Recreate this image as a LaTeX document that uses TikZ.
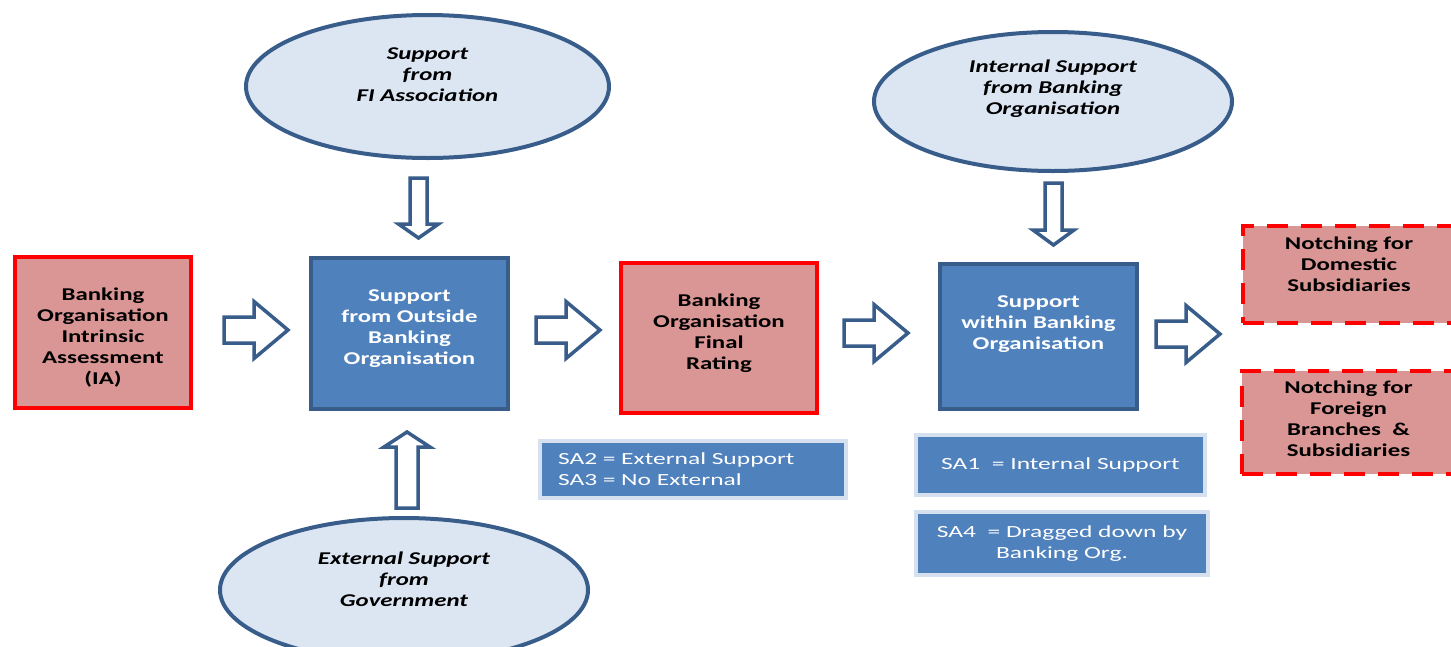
\documentclass[tikz,border=0pt]{standalone}
\usepackage{fontspec}
\setmainfont{Carlito}[FakeStretch=1.38]
\newfontfamily\safont{Carlito}[FakeStretch=1.5]
\usetikzlibrary{shapes.geometric}
\definecolor{redfill}{RGB}{217,150,148}
\definecolor{bluefill}{RGB}{79,129,189}
\definecolor{blueline}{RGB}{56,93,138}
\definecolor{ellfill}{RGB}{220,230,242}
\definecolor{halo}{RGB}{214,225,240}
\tikzset{
  pics/rarrow/.style={code={\draw[arrowline] (0,-13) -- (30,-13) -- (30,-28.5) -- (64,0) -- (30,28.5) -- (30,13) -- (0,13) -- cycle;}},
  pics/varrow/.style n args={4}{code={\draw[arrowline] (-#1,0) -- (#1,0) -- (#1,#3) -- (#2,#3) -- (0,#4) -- (-#2,#3) -- (-#1,#3) -- cycle;}},
}
\begin{document}
\begin{tikzpicture}[x=1pt,y=-1pt,
  every node/.style={inner sep=0pt, outer sep=0pt},
  arrowline/.style={draw=blueline, fill=white, line width=3.5pt, line join=miter},
  boxtxt/.style={font=\fontsize{18}{21}\selectfont\bfseries, align=center},
  elltxt/.style={font=\fontsize{18}{21}\selectfont\bfseries\itshape, align=center},
  satxt/.style={font=\safont\fontsize{17}{21}\selectfont, text=white},
  redbox/.style={rectangle, draw=red, fill=redfill, line width=4pt},
  bluebox/.style={rectangle, draw=blueline, fill=bluefill, line width=4pt},
  dashbox/.style={rectangle, draw=red, fill=redfill, line width=4pt, dash pattern=on 21pt off 13pt},
  ellnode/.style={ellipse, draw=blueline, fill=ellfill, line width=4pt},
  sabox/.style={rectangle, draw=halo, fill=bluefill, line width=4pt},
]
\useasboundingbox (0,0) rectangle (1451,646);
\clip (0,0) rectangle (1451,646);
\fill[white] (0,0) rectangle (1451,646);

% ellipses
\node[ellnode, minimum width=363, minimum height=143,
  label={[elltxt, yshift=12pt]center:{Support\\from\\FI Association}}] (e1) at (427.5,86.5) {};
\node[ellnode, minimum width=358, minimum height=139,
  label={[elltxt, yshift=13pt]center:{Internal Support\\from Banking\\Organisation}}] (e2) at (1053,101.5) {};
\node[ellnode, minimum width=368, minimum height=144,
  label={[elltxt, yshift=11pt]center:{External Support\\from\\Government}}] (e3) at (404,590) {};

% main boxes
\node[redbox, minimum width=176, minimum height=151,
  label={[boxtxt, yshift=-5.5pt]center:{Banking\\Organisation\\Intrinsic\\Assessment\\(IA)}}] (b1) at (103,332.5) {};
\node[bluebox, minimum width=197, minimum height=151,
  label={[boxtxt, text=white, yshift=4.5pt]center:{Support\\from Outside\\Banking\\Organisation}}] (b2) at (409.5,333.5) {};
\node[redbox, minimum width=196, minimum height=150,
  label={[boxtxt, yshift=5pt]center:{Banking\\Organisation\\Final\\Rating}}] (b3) at (719,338) {};
\node[bluebox, minimum width=197, minimum height=145,
  label={[boxtxt, text=white, yshift=12pt]center:{Support\\within Banking\\Organisation}}] (b4) at (1038.5,336.5) {};
\node[dashbox, minimum width=212, minimum height=97,
  label={[boxtxt, yshift=10.5pt]center:{Notching for\\Domestic\\Subsidiaries}}] (b5) at (1349,274.5) {};
\node[dashbox, minimum width=213, minimum height=103,
  label={[boxtxt, yshift=3.5pt]center:{Notching for\\Foreign\\Branches\ \ \&\\Subsidiaries}}] (b6) at (1348.5,422.5) {};

% SA label boxes
\node[sabox, satxt, minimum width=306, minimum height=57, text width=270, inner xsep=18pt, align=left] (sa23) at (693,469.5) {SA2 = External Support\\SA3 = No External};
\node[sabox, satxt, minimum width=289, minimum height=60, align=center] (sa1) at (1060.5,465) {SA1\ \ = Internal Support};
\node[sabox, satxt, minimum width=292, minimum height=63, align=center] (sa4) at (1062,543.5) {SA4\ \ = Dragged\ down by\\Banking Org.};

% block arrows
\pic (a1) at (224,330) {rarrow};
\pic (a2) at (536,330) {rarrow};
\pic (a3) at (844,333) {rarrow};
\pic (a4) at (1156,334) {rarrow};
\pic (d1) at (418.5,178) {varrow={8.5}{20}{46}{60}};
\pic (d2) at (1053.5,183) {varrow={8.5}{20.5}{47}{62}};
\pic[yscale=-1] (u1) at (407,508) {varrow={11}{23}{61}{76}};
\end{tikzpicture}
\end{document}
